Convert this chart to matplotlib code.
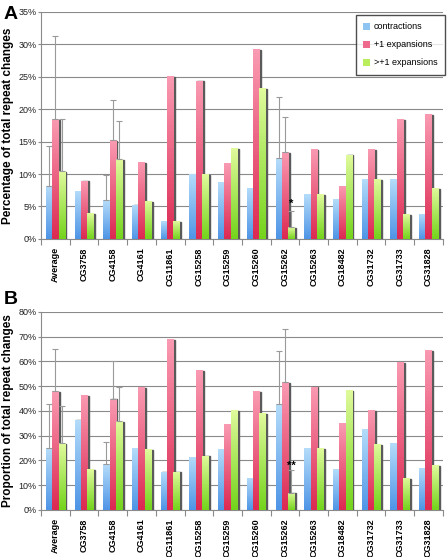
import numpy as np
import matplotlib
matplotlib.use("Agg")
import matplotlib.pyplot as plt
from matplotlib.colors import LinearSegmentedColormap
from matplotlib.patches import Patch

plt.rcParams['font.family'] = ['Liberation Sans', 'DejaVu Sans']

genes = ["Average", "CG3758", "CG4158", "CG4161", "CG11861", "CG15258", "CG15259",
         "CG15260", "CG15262", "CG15263", "CG18482", "CG31732", "CG31733", "CG31828"]
series = ["contractions", "+1 expansions", ">+1 expansions"]

# panel A: percentage of total repeat changes
a_contr = [8.2, 7.4, 6.0, 5.3, 2.7, 10.0, 8.7, 7.9, 12.4, 6.9, 6.1, 9.2, 9.2, 3.9]
a_plus1 = [18.5, 9.0, 15.2, 11.9, 25.1, 24.4, 11.7, 29.2, 13.4, 13.9, 8.2, 13.8, 18.5, 19.3]
a_more = [10.4, 4.0, 12.3, 5.9, 2.7, 10.0, 14.0, 23.2, 1.8, 6.9, 13.0, 9.2, 3.8, 7.9]
# upper error bar ends (index -> top value) per series
a_err = {0: (14.3, 31.3, 18.4), 2: (9.8, 21.4, 18.1), 8: (21.8, 18.8, 4.3)}

# panel B: proportion of total repeat changes
b_contr = [25.0, 36.5, 18.5, 25.0, 15.5, 21.5, 24.5, 13.0, 42.8, 25.0, 16.5, 32.7, 27.0, 17.0]
b_plus1 = [48.0, 46.5, 45.0, 49.5, 69.0, 56.5, 34.7, 48.0, 51.7, 49.8, 35.0, 40.4, 59.8, 64.7]
b_more = [27.0, 16.5, 36.0, 24.5, 15.5, 22.0, 40.4, 39.0, 7.0, 25.0, 48.5, 26.7, 13.0, 18.0]
b_err = {0: (43.0, 65.0, 42.0), 2: (27.5, 60.0, 49.5), 8: (64.2, 73.0, 16.0)}

grads = [("#b4dcfa", "#4f95e6"), ("#fa9ab2", "#dc2a52"), ("#e0fa9c", "#74d41c")]
flat = ["#8ec4f2", "#ee6a8c", "#b8ee5c"]


def draw_panel(ax, data, errs, ymax, step, ylabel, star, star_y):
    n = len(genes)
    x = np.arange(n)
    w = 0.22
    offs = [-w, 0, w]
    grid = np.arange(0, ymax + step / 2, step)
    for g in grid:
        ax.axhline(g, color="#8a8a8a", lw=0.8, zorder=0)
    for k, vals in enumerate(data):
        cmap = LinearSegmentedColormap.from_list("g%d" % k, [grads[k][1], grads[k][0]])
        for i, v in enumerate(vals):
            x0 = x[i] + offs[k] - w / 2
            # drop shadow
            ax.add_patch(plt.Rectangle((x0 + 0.055, 0), w, v - ymax * 0.004,
                                       color="#5a5a5a", zorder=2 + 2 * k))
            bar = plt.Rectangle((x0, 0), w, v, facecolor=flat[k], edgecolor="none",
                                zorder=3 + 2 * k)
            ax.add_patch(bar)
            im = ax.imshow(np.linspace(0, 1, 50).reshape(-1, 1), cmap=cmap,
                           extent=[x0, x0 + w, 0, v], origin="lower", aspect="auto",
                           zorder=3 + 2 * k)
            im.set_clip_path(bar)
    for i, tops in errs.items():
        for k in range(3):
            v = data[k][i]
            ax.errorbar(x[i] + offs[k], v, yerr=[[0], [tops[k] - v]], fmt="none",
                        ecolor="#9a9a9a", elinewidth=0.8, capsize=2, capthick=0.8,
                        zorder=10)
    ax.text(x[8] + offs[2], star_y, star, ha="center", va="bottom", fontsize=8,
            fontweight="bold", zorder=11)
    ax.set_xlim(-0.5, n - 0.5)
    ax.set_ylim(0, ymax)
    ax.set_yticks(grid)
    ax.set_yticklabels(["%d%%" % g for g in grid])
    ax.set_xticks(x)
    ax.set_xticklabels(genes, rotation=90, fontsize=6.5, fontweight="bold")
    ax.set_xticks(np.arange(-0.5, n, 1), minor=True)
    ax.tick_params(axis="x", which="major", length=0, pad=6)
    ax.tick_params(axis="x", which="minor", length=4, color="#8a8a8a", width=0.8)
    ax.tick_params(axis="y", length=2, color="#8a8a8a", labelsize=6.5, labelcolor="#222222",
                   pad=1)
    for s in ["top", "right"]:
        ax.spines[s].set_visible(False)
    for s in ["left", "bottom"]:
        ax.spines[s].set_color("#8a8a8a")
        ax.spines[s].set_linewidth(0.8)
    ax.set_ylabel(ylabel, fontsize=8.5, fontweight="bold")
    ax.yaxis.set_label_coords(-0.066, 0.5)


fig = plt.figure(figsize=(4.48, 5.57), dpi=100)
axA = fig.add_axes([0.0915, 0.571, 0.897, 0.408])
axB = fig.add_axes([0.0915, 0.0844, 0.897, 0.3556])

draw_panel(axA, [a_contr, a_plus1, a_more], a_err, 35, 5,
           "Percentage of total repeat changes", "*", 4.6)
draw_panel(axB, [b_contr, b_plus1, b_more], b_err, 80, 10,
           "Proportion of total repeat changes", "**", 16.0)

handles = [Patch(facecolor=flat[k], edgecolor="none") for k in range(3)]
leg = axA.legend(handles, series, loc="upper right", bbox_to_anchor=(1.005, 0.985),
                 fontsize=6.5, frameon=True, fancybox=False, handlelength=0.8,
                 handleheight=0.8, handletextpad=0.4, labelspacing=1.0,
                 borderpad=0.8, borderaxespad=0)
leg.get_frame().set_edgecolor("#222222")
leg.get_frame().set_linewidth(1.0)
leg.set_zorder(20)

fig.text(0.008, 0.99, "A", fontsize=14, fontweight="bold", va="top")
fig.text(0.008, 0.478, "B", fontsize=14, fontweight="bold", va="top")

fig.savefig("out.png", dpi=100)
